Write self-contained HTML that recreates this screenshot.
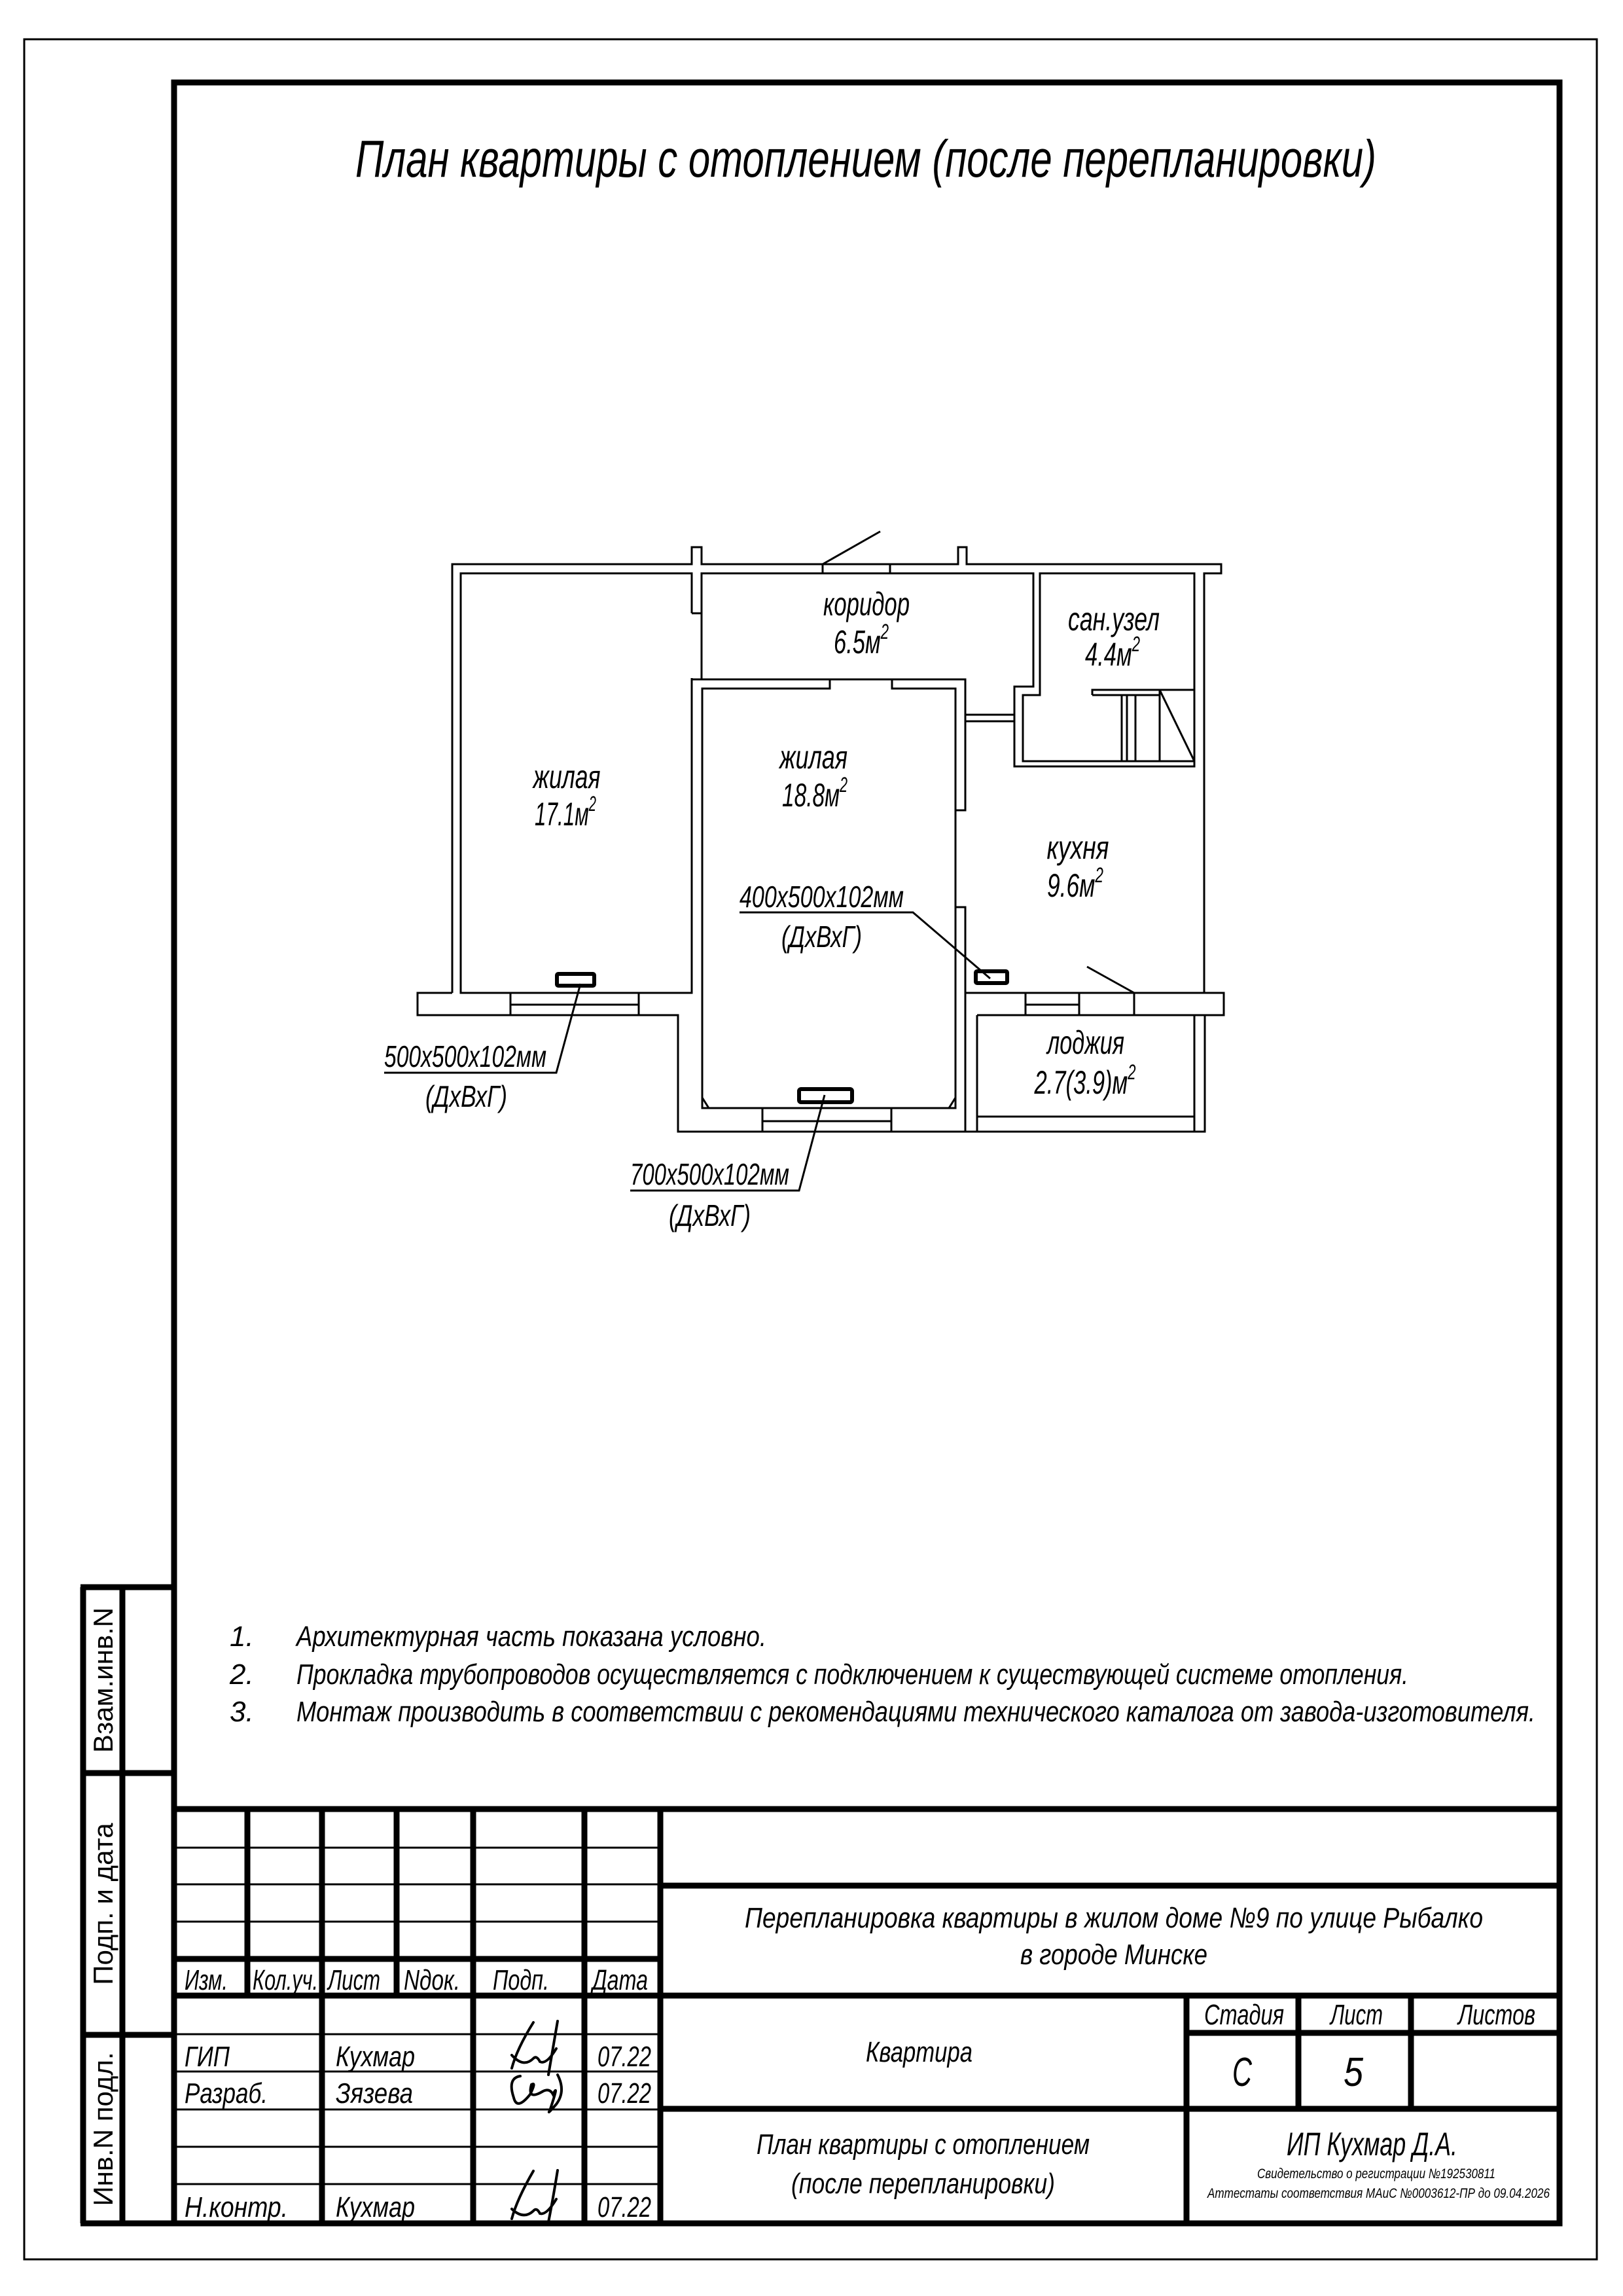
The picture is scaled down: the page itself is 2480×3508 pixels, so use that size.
<!DOCTYPE html>
<html><head><meta charset="utf-8"><style>
html,body{margin:0;padding:0;background:#fff}
svg{display:block}
text{font-family:"Liberation Sans Narrow","Liberation Sans","DejaVu Sans",sans-serif;font-style:italic;fill:#000}
.u{font-style:normal}
</style></head><body>
<svg width="2480" height="3508" viewBox="0 0 2480 3508" xmlns="http://www.w3.org/2000/svg">
<defs><clipPath id="cf"><rect x="2100" y="3400" width="300" height="17"/></clipPath></defs>
<rect x="0" y="0" width="2480" height="3508" fill="#fff"/>
<rect x="37" y="60" width="2403" height="3392" fill="none" stroke="#000" stroke-width="3"/>
<rect x="266" y="126" width="2117" height="3271" fill="none" stroke="#000" stroke-width="9"/>

<text x="543" y="270" font-size="80" textLength="1560" lengthAdjust="spacingAndGlyphs">План квартиры с отоплением (после перепланировки)</text>

<g fill="none" stroke="#000" stroke-width="3">
<polyline points="691,1517 691,862 1057,862 1057,836 1072,836 1072,862 1257,862"/>
<polyline points="1360,862 1464,862 1464,836 1477,836 1477,862 1866,862 1866,876 1840,876 1840,1517 1870,1517 1870,1551 1841,1551 1841,1729 1036,1729 1036,1551 638,1551 638,1517 691,1517"/>
<rect x="1257" y="862" width="103" height="14"/>
<line x1="1257" y1="862" x2="1345" y2="812"/>
<polyline points="1057,937 1057,876 704,876 704,1517 1057,1517 1057,1036"/>
<line x1="1057" y1="937" x2="1072" y2="937"/>
<line x1="780" y1="1517" x2="780" y2="1551"/><line x1="976" y1="1517" x2="976" y2="1551"/>
<line x1="780" y1="1535" x2="976" y2="1535"/>
<polyline points="1072,1038 1072,876 1579,876 1579,1049 1550,1049 1550,1171 1825,1171 1825,876 1589,876 1589,1062 1563,1062 1563,1163 1825,1163"/>
<polyline points="1057,1036 1057,1038 1268,1038 1268,1052 1073,1052 1073,1693 1460,1693 1460,1386 1475,1386 1475,1517"/>
<polyline points="1363,1038 1475,1038 1475,1238 1460,1238 1460,1052 1363,1052 1363,1038"/>
<line x1="1268" y1="1038" x2="1363" y2="1038"/>
<line x1="1460" y1="1238" x2="1460" y2="1386"/>
<line x1="1073" y1="1677" x2="1083" y2="1693"/><line x1="1460" y1="1677" x2="1450" y2="1693"/>
<line x1="1165" y1="1693" x2="1165" y2="1729"/><line x1="1362" y1="1693" x2="1362" y2="1729"/>
<line x1="1165" y1="1713" x2="1362" y2="1713"/>
<line x1="1475" y1="1092" x2="1550" y2="1092"/><line x1="1475" y1="1102" x2="1550" y2="1102"/>
<polyline points="1669,1062 1669,1054 1825,1054"/>
<line x1="1669" y1="1062" x2="1772" y2="1062"/>
<line x1="1714" y1="1062" x2="1714" y2="1163"/><line x1="1722" y1="1062" x2="1722" y2="1163"/><line x1="1735" y1="1062" x2="1735" y2="1163"/>
<line x1="1772" y1="1054" x2="1772" y2="1163"/><line x1="1772" y1="1054" x2="1825" y2="1163"/>
<line x1="1475" y1="1517" x2="1840" y2="1517"/>
<line x1="1493" y1="1551" x2="1841" y2="1551"/>
<line x1="1567" y1="1517" x2="1567" y2="1551"/><line x1="1649" y1="1517" x2="1649" y2="1551"/><line x1="1733" y1="1517" x2="1733" y2="1551"/>
<line x1="1567" y1="1535" x2="1649" y2="1535"/>
<line x1="1733" y1="1517" x2="1661" y2="1477"/>
<line x1="1475" y1="1517" x2="1475" y2="1729"/><line x1="1493" y1="1551" x2="1493" y2="1729"/>
<line x1="1825" y1="1551" x2="1825" y2="1729"/>
<line x1="1493" y1="1706" x2="1825" y2="1706"/>
<polyline points="587,1639 850,1639 887,1503"/>
<polyline points="963,1819 1221,1819 1260,1673"/>
<polyline points="1130,1394 1395,1394 1513,1495"/>
</g>
<g fill="none" stroke="#000" stroke-width="6">
<rect x="851" y="1488" width="57" height="18" rx="2"/>
<rect x="1491" y="1484" width="48" height="18" rx="2"/>
<rect x="1221" y="1664" width="81" height="20" rx="3"/>
</g>
<g font-size="50" text-anchor="middle">
<text x="1324" y="940" textLength="132" lengthAdjust="spacingAndGlyphs">коридор</text>
<text x="1316" y="998" textLength="84" lengthAdjust="spacingAndGlyphs">6.5м<tspan font-size="32" dy="-22">2</tspan></text>
<text x="1702" y="963" textLength="140" lengthAdjust="spacingAndGlyphs">сан.узел</text>
<text x="1700" y="1017" textLength="84" lengthAdjust="spacingAndGlyphs">4.4м<tspan font-size="32" dy="-22">2</tspan></text>
<text x="866" y="1204" textLength="103" lengthAdjust="spacingAndGlyphs">жилая</text>
<text x="864" y="1261" textLength="94" lengthAdjust="spacingAndGlyphs">17.1м<tspan font-size="32" dy="-22">2</tspan></text>
<text x="1243" y="1174" textLength="104" lengthAdjust="spacingAndGlyphs">жилая</text>
<text x="1245" y="1232" textLength="100" lengthAdjust="spacingAndGlyphs">18.8м<tspan font-size="32" dy="-22">2</tspan></text>
<text x="1647" y="1312" textLength="95" lengthAdjust="spacingAndGlyphs">кухня</text>
<text x="1643" y="1370" textLength="86" lengthAdjust="spacingAndGlyphs">9.6м<tspan font-size="32" dy="-22">2</tspan></text>
<text x="1659" y="1610" textLength="118" lengthAdjust="spacingAndGlyphs">лоджия</text>
<text x="1658" y="1671" textLength="155" lengthAdjust="spacingAndGlyphs">2.7(3.9)м<tspan font-size="32" dy="-22">2</tspan></text>
</g>
<g font-size="46">
<text x="1130" y="1386" textLength="251" lengthAdjust="spacingAndGlyphs">400x500x102мм</text>
<text x="1194" y="1447" textLength="123" lengthAdjust="spacingAndGlyphs">(ДхВхГ)</text>
<text x="587" y="1630" textLength="248" lengthAdjust="spacingAndGlyphs">500x500x102мм</text>
<text x="650" y="1691" textLength="125" lengthAdjust="spacingAndGlyphs">(ДхВхГ)</text>
<text x="963" y="1810" textLength="243" lengthAdjust="spacingAndGlyphs">700x500x102мм</text>
<text x="1022" y="1873" textLength="125" lengthAdjust="spacingAndGlyphs">(ДхВхГ)</text>
</g>

<g font-size="44">
<text x="351" y="2515">1.</text>
<text x="453" y="2515" textLength="718" lengthAdjust="spacingAndGlyphs">Архитектурная часть показана условно.</text>
<text x="351" y="2573">2.</text>
<text x="453" y="2573" textLength="1699" lengthAdjust="spacingAndGlyphs">Прокладка трубопроводов осуществляется с подключением к существующей системе отопления.</text>
<text x="351" y="2630">3.</text>
<text x="453" y="2630" textLength="1893" lengthAdjust="spacingAndGlyphs">Монтаж производить в соответствии с рекомендациями технического каталога от завода-изготовителя.</text>
</g>

<g stroke="#000" stroke-width="9" fill="none">
<line x1="266" y1="2764" x2="2383" y2="2764"/>
<line x1="378" y1="2764" x2="378" y2="3049"/>
<line x1="606" y1="2764" x2="606" y2="3049"/>
<line x1="492" y1="2764" x2="492" y2="3397"/>
<line x1="723" y1="2764" x2="723" y2="3397"/>
<line x1="893" y1="2764" x2="893" y2="3397"/>
<line x1="1009" y1="2764" x2="1009" y2="3397"/>
<line x1="266" y1="2993" x2="1009" y2="2993"/>
<line x1="266" y1="3049" x2="2383" y2="3049"/>
<line x1="1009" y1="2881" x2="2383" y2="2881"/>
<line x1="1009" y1="3222" x2="2383" y2="3222"/>
<line x1="1813" y1="3049" x2="1813" y2="3397"/>
<line x1="1984" y1="3049" x2="1984" y2="3222"/>
<line x1="2156" y1="3049" x2="2156" y2="3222"/>
<line x1="1813" y1="3106" x2="2383" y2="3106"/>
<line x1="127" y1="2425" x2="127" y2="3397"/>
<line x1="187" y1="2425" x2="187" y2="3397"/>
<line x1="123" y1="2425" x2="266" y2="2425"/>
<line x1="123" y1="2709" x2="266" y2="2709"/>
<line x1="123" y1="3109" x2="266" y2="3109"/>
<line x1="123" y1="3397" x2="266" y2="3397"/>
</g>
<g stroke="#000" stroke-width="3">
<line x1="266" y1="2823" x2="1009" y2="2823"/>
<line x1="266" y1="2879" x2="1009" y2="2879"/>
<line x1="266" y1="2936" x2="1009" y2="2936"/>
<line x1="266" y1="3108" x2="1009" y2="3108"/>
<line x1="266" y1="3165" x2="1009" y2="3165"/>
<line x1="266" y1="3223" x2="1009" y2="3223"/>
<line x1="266" y1="3280" x2="1009" y2="3280"/>
<line x1="266" y1="3337" x2="1009" y2="3337"/>
</g>
<g font-size="44">
<text x="282" y="3040" textLength="66" lengthAdjust="spacingAndGlyphs">Изм.</text>
<text x="386" y="3040" textLength="100" lengthAdjust="spacingAndGlyphs">Кол.уч.</text>
<text x="501" y="3040" textLength="80" lengthAdjust="spacingAndGlyphs">Лист</text>
<text x="617" y="3040" textLength="86" lengthAdjust="spacingAndGlyphs">Nдок.</text>
<text x="753" y="3040" textLength="86" lengthAdjust="spacingAndGlyphs">Подп.</text>
<text x="905" y="3040" textLength="85" lengthAdjust="spacingAndGlyphs">Дата</text>
<text x="282" y="3157" textLength="69" lengthAdjust="spacingAndGlyphs">ГИП</text>
<text x="513" y="3157" textLength="121" lengthAdjust="spacingAndGlyphs">Кухмар</text>
<text x="913" y="3157" textLength="82" lengthAdjust="spacingAndGlyphs">07.22</text>
<text x="282" y="3213" textLength="127" lengthAdjust="spacingAndGlyphs">Разраб.</text>
<text x="513" y="3213" textLength="118" lengthAdjust="spacingAndGlyphs">Зязева</text>
<text x="913" y="3213" textLength="82" lengthAdjust="spacingAndGlyphs">07.22</text>
<text x="282" y="3387" textLength="158" lengthAdjust="spacingAndGlyphs">Н.контр.</text>
<text x="513" y="3387" textLength="121" lengthAdjust="spacingAndGlyphs">Кухмар</text>
<text x="913" y="3387" textLength="82" lengthAdjust="spacingAndGlyphs">07.22</text>
<text x="1138" y="2945" textLength="1128" lengthAdjust="spacingAndGlyphs">Перепланировка квартиры  в жилом доме №9 по улице Рыбалко</text>
<text x="1559" y="3001" textLength="286" lengthAdjust="spacingAndGlyphs">в городе Минске</text>
<text x="1323" y="3150" textLength="163" lengthAdjust="spacingAndGlyphs">Квартира</text>
<text x="1840" y="3093" textLength="122" lengthAdjust="spacingAndGlyphs">Стадия</text>
<text x="2033" y="3093" textLength="80" lengthAdjust="spacingAndGlyphs">Лист</text>
<text x="2228" y="3093" textLength="118" lengthAdjust="spacingAndGlyphs">Листов</text>
<text x="1156" y="3291" textLength="509" lengthAdjust="spacingAndGlyphs">План квартиры с отоплением</text>
<text x="1209" y="3351" textLength="403" lengthAdjust="spacingAndGlyphs">(после перепланировки)</text>
</g>
<text x="1883" y="3187" font-size="62" textLength="30" lengthAdjust="spacingAndGlyphs">С</text>
<text x="2053" y="3187" font-size="62" textLength="30" lengthAdjust="spacingAndGlyphs">5</text>
<text x="1966" y="3293" font-size="50" textLength="261" lengthAdjust="spacingAndGlyphs">ИП Кухмар Д.А.</text>
<text x="1921" y="3328" font-size="21" textLength="364" lengthAdjust="spacingAndGlyphs">Свидетельство о регистрации №192530811</text>
<text x="1845" y="3358" font-size="21" textLength="523" lengthAdjust="spacingAndGlyphs">Аттестаты соответствия МАиС №0003612-ПР до 09.04.2026</text>
<text x="2193" y="3450" font-size="46" clip-path="url(#cf)" textLength="190" lengthAdjust="spacingAndGlyphs">Формат А4</text>
<g font-size="42" text-anchor="middle">
<text class="u" transform="translate(172,2567) rotate(-90)">Взам.инв.N</text>
<text class="u" transform="translate(172,2909) rotate(-90)">Подп. и дата</text>
<text class="u" transform="translate(172,3253) rotate(-90)">Инв.N подл.</text>
</g>
<g fill="none" stroke="#000" stroke-width="4" stroke-linecap="round">
<path d="M815,3090 Q790,3130 782,3160 M782,3140 Q800,3160 815,3145 Q820,3140 825,3150 Q835,3155 850,3130 M852,3088 Q845,3130 838,3170"/>
<path d="M795,3172 Q775,3175 785,3205 Q790,3225 810,3200 Q820,3180 812,3185 Q805,3210 830,3195 Q840,3190 845,3200 Q855,3180 840,3225 Q835,3232 850,3215 Q865,3195 852,3170"/>
<path d="M815,3317 Q790,3360 782,3390 M782,3375 Q800,3392 815,3378 Q820,3372 825,3382 Q835,3385 850,3360 M852,3316 Q845,3360 838,3395"/>
</g>
</svg>
</body></html>
